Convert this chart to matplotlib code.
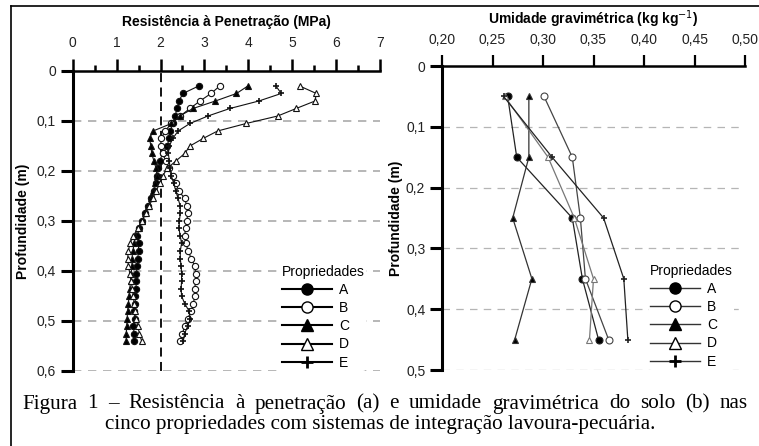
import numpy as np
import matplotlib.pyplot as plt
from matplotlib.lines import Line2D

plt.rcParams['font.family'] = ['Liberation Sans', 'DejaVu Sans']

# profundidade (m) - painel a
prof_a = [0.030, 0.045, 0.060, 0.075, 0.090, 0.105, 0.120, 0.135, 0.150, 0.165,
          0.180, 0.195, 0.210, 0.225, 0.240, 0.255, 0.270, 0.285, 0.300, 0.315,
          0.330, 0.345, 0.360, 0.375, 0.390, 0.405, 0.420, 0.435, 0.450, 0.465,
          0.480, 0.495, 0.510, 0.525, 0.540]

# resistencia a penetracao (MPa)
rp_A = [2.87, 2.51, 2.42, 2.38, 2.33, 2.28, 2.22, 2.20, 2.15, 2.05,
        1.98, 1.95, 1.93, 1.90, 1.85, 1.78, 1.72, 1.65, 1.58, 1.52,
        1.47, 1.50, 1.50, 1.48, 1.47, 1.45, 1.45, 1.44, 1.43, 1.42,
        1.40, 1.42, 1.38, 1.40, 1.40]
rp_B = [3.35, 3.15, 2.90, 2.67, 2.45, 2.25, 2.10, 2.02, 2.00, 2.05,
        2.12, 2.20, 2.28, 2.35, 2.42, 2.55, 2.60, 2.62, 2.60, 2.57,
        2.55, 2.58, 2.63, 2.70, 2.78, 2.80, 2.80, 2.78, 2.78, 2.75,
        2.70, 2.62, 2.55, 2.50, 2.45]
rp_C = [3.99, 3.73, 3.25, 2.74, 2.44, 2.25, 1.83, 1.75, 1.78, 1.80,
        1.85, 1.90, 1.92, 1.88, 1.83, 1.78, 1.72, 1.65, 1.58, 1.50,
        1.43, 1.40, 1.37, 1.35, 1.35, 1.33, 1.32, 1.30, 1.28, 1.27,
        1.25, 1.24, 1.23, 1.22, 1.22]
rp_D = [5.17, 5.55, 5.52, 5.09, 4.67, 3.95, 3.30, 2.97, 2.67, 2.55,
        2.35, 2.15, 2.05, 1.98, 1.90, 1.82, 1.74, 1.66, 1.58, 1.48,
        1.38, 1.30, 1.27, 1.25, 1.27, 1.30, 1.33, 1.36, 1.38, 1.40,
        1.42, 1.45, 1.48, 1.52, 1.57]
rp_E = [4.63, 4.75, 4.24, 3.58, 3.08, 2.67, 2.40, 2.28, 2.20, 2.18,
        2.20, 2.22, 2.25, 2.30, 2.35, 2.40, 2.45, 2.45, 2.43, 2.42,
        2.45, 2.48, 2.45, 2.45, 2.47, 2.48, 2.48, 2.47, 2.48, 2.55,
        2.65, 2.68, 2.62, 2.55, 2.52]

# profundidade (m) - painel b
prof_b = [0.05, 0.15, 0.25, 0.35, 0.45]

# umidade gravimetrica (kg/kg)
ug_A = [0.265, 0.274, 0.329, 0.339, 0.355]
ug_B = [0.301, 0.329, 0.337, 0.342, 0.365]
ug_C = [0.286, 0.286, 0.270, 0.289, 0.272]
ug_D = [0.262, 0.305, 0.331, 0.350, 0.346]
ug_E = [0.261, 0.309, 0.360, 0.380, 0.384]

nomes = ['A', 'B', 'C', 'D', 'E']
xt_a = [0, 1, 2, 3, 4, 5, 6, 7]
yt_a = [0, 0.1, 0.2, 0.3, 0.4, 0.5, 0.6]
xt_b = [0.20, 0.25, 0.30, 0.35, 0.40, 0.45, 0.50]
yt_b = [0, 0.1, 0.2, 0.3, 0.4, 0.5]

# estilos dos marcadores: (marker, facecolor)
estilos = {'A': ('o', 'black'), 'B': ('o', 'white'), 'C': ('^', 'black'),
           'D': ('^', 'white'), 'E': ('+', 'black')}

W, H = 759, 446
fig = plt.figure(figsize=(W / 100, H / 100), dpi=100)


def px_axes(x0, y0, x1, y1):
    # cria eixos a partir de coordenadas em pixels
    return fig.add_axes([x0 / W, 1 - y1 / H, (x1 - x0) / W, (y1 - y0) / H])


def estilo_eixos(ax, xt, yt, xlab, ylab):
    ax.xaxis.tick_top()
    ax.set_xticks(xt)
    ax.set_yticks(yt)
    ax.set_xticklabels(xlab, fontsize=10, color='#222')
    ax.set_yticklabels(ylab, fontsize=10, color='#222')
    for s in ['right', 'bottom']:
        ax.spines[s].set_visible(False)
    ax.spines['left'].set_linewidth(2.2)
    ax.spines['top'].set_linewidth(1.8)
    ax.tick_params(axis='x', direction='out', length=9, width=1.8, pad=6)
    ax.tick_params(axis='y', direction='out', length=9, width=2.2, pad=3)
    ax.patch.set_alpha(0)


def legenda(ax, handles, x_anchor):
    leg = ax.legend(handles, nomes, title='Propriedades', loc='lower right',
                    bbox_to_anchor=(x_anchor, 0.0), frameon=True, fontsize=10,
                    title_fontsize=10, handlelength=3.6, handletextpad=0.5,
                    labelspacing=0.3, borderpad=0.1, borderaxespad=0)
    leg.get_frame().set_edgecolor('none')
    leg.get_frame().set_facecolor('white')
    leg.get_frame().set_alpha(1)
    leg._legend_box.align = 'left'
    return leg


# ---------- painel a ----------
ax1 = px_axes(72.7, 71, 380, 371)
ax1.set_xlim(0, 7)
ax1.set_ylim(0.6, 0)
estilo_eixos(ax1, xt_a, yt_a, [str(v) for v in xt_a],
             ['0', '0,1', '0,2', '0,3', '0,4', '0,5', '0,6'])
ax1.set_xticks(np.arange(0.5, 7, 1), minor=True)
ax1.tick_params(axis='x', which='minor', direction='out', length=4, width=1.8)
for g in yt_a[1:]:
    ax1.axhline(g, color='#aaaaaa', lw=1.2, ls=(0, (5, 4)), zorder=0)
ax1.axvline(2, color='black', lw=1.3, ls=(0, (5, 3)), zorder=1)

series_a = [rp_A, rp_B, rp_C, rp_D, rp_E]
for nome, vals in zip(nomes, series_a):
    mk, fc = estilos[nome]
    ax1.plot(vals, prof_a, color='#111', lw=0.8, marker=mk, ms=4.5,
             mfc=fc, mec='#111', mew=0.8 if mk != '+' else 1.2, zorder=3)

ax1.set_title('Resistência à Penetração (MPa)', fontsize=10, fontweight='bold',
              pad=7)
ax1.set_ylabel('Profundidade (m)', fontsize=10, fontweight='bold', labelpad=5)
ax1.text(0.955, 0.095, 'a)', transform=ax1.transAxes, fontsize=13,
         fontweight='bold', ha='right', va='center')

handles_a = []
for nome in nomes:
    mk, fc = estilos[nome]
    handles_a.append(Line2D([0], [0], color='black', lw=1.5, marker=mk, ms=8,
                            mfc=fc, mec='black', mew=1.0 if mk != '+' else 2))
legenda(ax1, handles_a, 0.955)

# ---------- painel b ----------
ax2 = px_axes(442, 66, 745, 370)
ax2.set_xlim(0.20, 0.50)
ax2.set_ylim(0.5, 0)
estilo_eixos(ax2, xt_b, yt_b,
             [('%.2f' % v).replace('.', ',') for v in xt_b],
             ['0', '0,1', '0,2', '0,3', '0,4', '0,5'])
ax2.tick_params(axis='x', length=8, width=1.6)
for g in yt_b[1:]:
    ax2.axhline(g, color='#b5b5b5', lw=0.9, ls=(0, (6, 5)), zorder=0)

series_b = [ug_A, ug_B, ug_C, ug_D, ug_E]
cores_b = {'A': '#222', 'B': '#444', 'C': '#333', 'D': '#777', 'E': '#222'}
for nome, vals in zip(nomes, series_b):
    mk, fc = estilos[nome]
    ax2.plot(vals, prof_b, color=cores_b[nome], lw=0.9, marker=mk, ms=5,
             mfc=fc, mec=cores_b[nome], mew=0.8 if mk != '+' else 1.2,
             zorder=3)

ax2.set_title('Umidade gravimétrica (kg kg$^{-1}$)', fontsize=10,
              fontweight='bold', pad=6)
ax2.set_ylabel('Profundidade (m)', fontsize=10, fontweight='bold', labelpad=2)
ax2.text(0.965, 0.1, 'b)', transform=ax2.transAxes, fontsize=13,
         fontweight='bold', ha='right', va='center')

handles_b = []
for nome in nomes:
    mk, fc = estilos[nome]
    handles_b.append(Line2D([0], [0], color='#333', lw=1.0, marker=mk, ms=8,
                            mfc=fc, mec='black', mew=1.0 if mk != '+' else 2))
legenda(ax2, handles_b, 0.965)

# ---------- moldura e legenda da figura ----------
fig.add_artist(Line2D([11 / W, 1], [1 - 5.5 / H, 1 - 5.5 / H], color='black',
                      lw=1.2))
fig.add_artist(Line2D([11 / W, 11 / W], [0, 1 - 5.5 / H], color='black',
                      lw=1.2))

cap1 = 'Figura 1 – Resistência à penetração (a) e umidade gravimétrica do solo (b) nas'
cap2 = 'cinco propriedades com sistemas de integração lavoura-pecuária.'
fs_cap = 15.2

# primeira linha justificada entre x=22 e x=748
renderer = fig.canvas.get_renderer()
palavras = cap1.split(' ')
larguras = []
for p in palavras:
    t = fig.text(0, 0, p, family='Liberation Serif', fontsize=fs_cap)
    larguras.append(t.get_window_extent(renderer).width)
    t.remove()
x0, x1 = 22, 748
esp = (x1 - x0 - sum(larguras)) / (len(palavras) - 1)
x = x0
for p, w in zip(palavras, larguras):
    fig.text(x / W, 1 - 404 / H, p, family='Liberation Serif', fontsize=fs_cap,
             ha='left', va='center')
    x += w + esp

fig.text(380 / W, 1 - 425 / H, cap2, family='Liberation Serif',
         fontsize=fs_cap, ha='center', va='center')

fig.savefig('out.png', dpi=100)
